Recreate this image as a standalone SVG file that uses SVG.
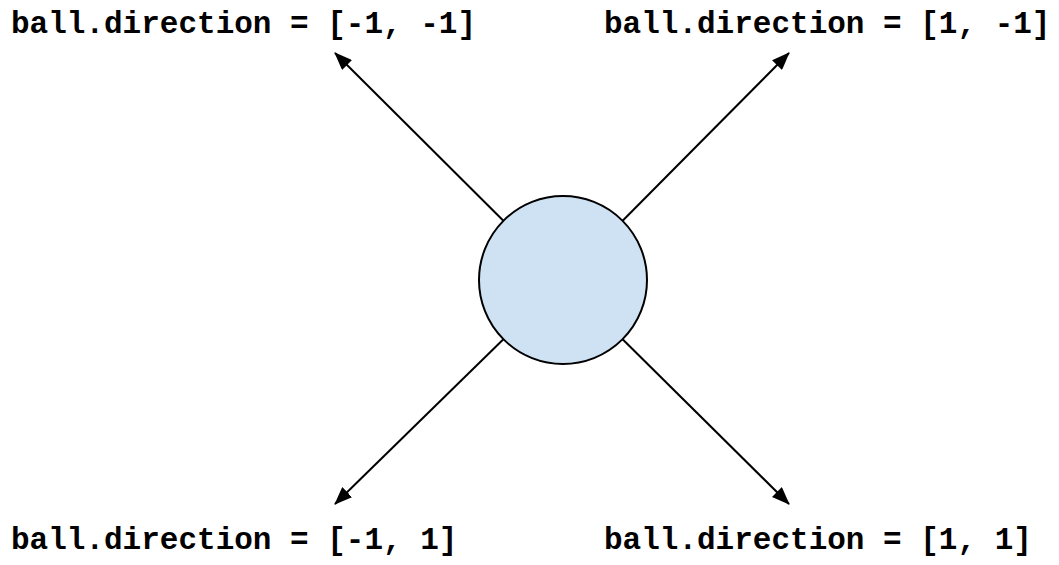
<svg xmlns="http://www.w3.org/2000/svg" width="1059" height="565" viewBox="0 0 1059 565">
<style>
.lbl{font-family:"Liberation Mono","Courier New",monospace;font-weight:bold;font-size:31px;fill:#000}
.conn{stroke:#000;stroke-width:2;fill:none}
</style>
<defs>
<marker id="ah" markerUnits="userSpaceOnUse" markerWidth="18" markerHeight="14" refX="17" refY="7" orient="auto">
<path d="M0,0 L18,7 L0,14 Z" fill="#000"/>
</marker>
</defs>
<rect width="1059" height="565" fill="#fff"/>
<g id="connectors">
<line class="conn" x1="503.4" y1="220.8" x2="335" y2="53" marker-end="url(#ah)"/>
<line class="conn" x1="622.6" y1="220.8" x2="789" y2="53" marker-end="url(#ah)"/>
<line class="conn" x1="503.4" y1="339.2" x2="335" y2="504" marker-end="url(#ah)"/>
<line class="conn" x1="622.6" y1="339.2" x2="789" y2="504" marker-end="url(#ah)"/>
</g>
<g id="ball">
<circle cx="563" cy="280" r="84" fill="#cfe2f3" stroke="#000" stroke-width="2"/>
</g>
<g id="label-tl"><text class="lbl" x="11" y="33">ball.direction = [-1, -1]</text></g>
<g id="label-tr"><text class="lbl" x="604" y="33">ball.direction = [1, -1]</text></g>
<g id="label-bl"><text class="lbl" x="11" y="549">ball.direction = [-1, 1]</text></g>
<g id="label-br"><text class="lbl" x="604" y="549">ball.direction = [1, 1]</text></g>
</svg>
